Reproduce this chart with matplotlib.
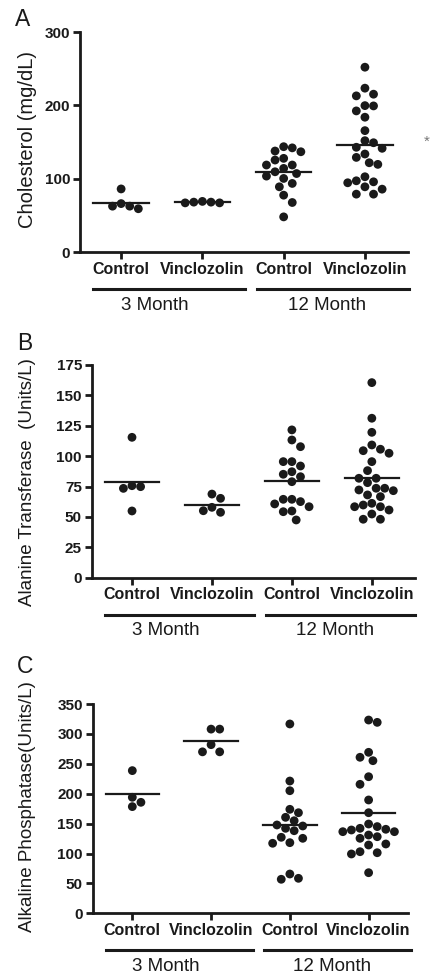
import matplotlib.pyplot as plt
import numpy as np
from matplotlib.transforms import blended_transform_factory, ScaledTranslation

plt.rcParams['font.family'] = ['Liberation Sans', 'DejaVu Sans']

# categorias
groups = ['Control', 'Vinclozolin', 'Control', 'Vinclozolin']
ages = ['3 Month', '12 Month']

# A - colesterol (mg/dL)
chol_3m_ctrl = [86, 66, 62.5, 62.5, 59]
chol_3m_vinc = [69, 68, 68, 67, 67]
chol_12m_ctrl = [142, 143.6, 136.7, 137.7, 127.7, 125.4, 118.6, 118.6, 114,
                 109.4, 107, 103.5, 100.3, 93.5, 88.9, 77.5, 67.5, 47.9]
chol_12m_vinc = [252, 223.4, 212.9, 215.2, 199.6, 192.4, 199.2, 183.8, 165.5,
                 151.8, 149, 142.8, 141.4, 133.6, 129, 121.7, 119.5, 102.6,
                 97.1, 95.7, 94.4, 88.9, 85.7, 78.9, 78.9]

# B - alanina transferasa (Units/L)
alt_3m_ctrl = [115.5, 74.9, 73.5, 75.7, 54.9]
alt_3m_vinc = [68.8, 65.3, 57.9, 53.8, 55.1]
alt_12m_ctrl = [121.6, 113.3, 107.8, 95.5, 95.5, 91.9, 85.1, 87.2, 83.1, 79,
                64.5, 64.5, 60.7, 62.6, 58.4, 54.9, 54.3, 47.5]
alt_12m_vinc = [160.5, 131.2, 119.6, 109.2, 104.5, 105.7, 102.4, 95.5, 88.1,
                81.8, 81.8, 78.2, 73.6, 73.6, 72.2, 71.6, 68.1, 66.7, 61.2,
                59.8, 58.4, 58.4, 52.4, 48.1, 48.1, 55.7]

# C - fosfatasa alcalina (Units/L)
alp_3m_ctrl = [238.6, 194, 178.4, 185.6]
alp_3m_vinc = [308, 308, 282, 270, 270]
alp_12m_ctrl = [316.6, 221.2, 205, 173.9, 168.2, 160.5, 147.7, 154.8, 146,
                142.1, 138.1, 127.1, 125.4, 118.1, 117.1, 65.7, 56.9, 58.5]
alp_12m_vinc = [323.2, 319.3, 269.2, 255.2, 260.9, 228.4, 215.7, 189.5, 168.2,
                149.3, 140.5, 142.1, 145, 139.3, 136.5, 136.5, 130.9, 125.4,
                128.1, 115.9, 114.2, 103, 101.3, 99.2, 67.9]

chol_ticks = [0, 100, 200, 300]
alt_ticks = [0, 25, 50, 75, 100, 125, 150, 175]
alp_ticks = [0, 50, 100, 150, 200, 250, 300, 350]

panels = [
    dict(letter='A', ylabel='Cholesterol (mg/dL)', ysize=14.5,
         data=[chol_3m_ctrl, chol_3m_vinc, chol_12m_ctrl, chol_12m_vinc],
         ticks=chol_ticks, rect=[80, 32, 408, 252], xlim=(-0.506, 3.53),
         letter_pos=(23, 20), ylabel_pos=(28, 140)),
    dict(letter='B', ylabel='Alanine Transferase  (Units/L)', ysize=13.5,
         data=[alt_3m_ctrl, alt_3m_vinc, alt_12m_ctrl, alt_12m_vinc],
         ticks=alt_ticks, rect=[91.7, 365, 415, 577.7], xlim=(-0.504, 3.54),
         letter_pos=(25, 343), ylabel_pos=(28, 482)),
    dict(letter='C', ylabel='Alkaline Phosphatase(Units/L)', ysize=13.5,
         data=[alp_3m_ctrl, alp_3m_vinc, alp_12m_ctrl, alp_12m_vinc],
         ticks=alp_ticks, rect=[92.7, 704, 408, 913.3], xlim=(-0.503, 3.5),
         letter_pos=(25, 666), ylabel_pos=(28, 807)),
]

W, H = 430, 980
ink = '#1a1a1a'


def swarm(ax, xc, vals, step=4.3, rx=8.5, ry=9.0):
    # reparto tipo "beeswarm" en pixeles, equilibrando ambos lados
    placed = []
    for v in sorted(vals, reverse=True):
        px, py = ax.transData.transform((xc, v))
        left = sum(1 for a, _ in placed if a < px - 0.1)
        right = sum(1 for a, _ in placed if a > px + 0.1)
        first = 1 if right <= left else -1
        cands = [0]
        for k in range(1, 12):
            cands += [first * k, -first * k]
        for k in cands:
            cx = px + k * step
            if all(((cx - a) / rx) ** 2 + ((py - b) / ry) ** 2 >= 1 for a, b in placed):
                break
        placed.append((cx, py))
    return ax.transData.inverted().transform(placed)


fig = plt.figure(figsize=(W / 100, H / 100), dpi=100)

for p in panels:
    x0, y0, x1, y1 = p['rect']
    ax = fig.add_axes([x0 / W, 1 - y1 / H, (x1 - x0) / W, (y1 - y0) / H])
    ax.set_xlim(*p['xlim'])
    ax.set_ylim(0, p['ticks'][-1])

    for i, vals in enumerate(p['data']):
        pts = swarm(ax, i, vals)
        ax.scatter(pts[:, 0], pts[:, 1], s=40, color=ink, edgecolors='none',
                   zorder=3, clip_on=False)
        m = np.mean(vals)
        ax.plot([i - 0.34, i + 0.34], [m, m], color=ink, lw=1.6, zorder=4)

    ax.set_yticks(p['ticks'])
    ax.set_yticklabels([str(t) for t in p['ticks']], fontweight='bold', fontsize=11)
    ax.set_xticks(range(len(groups)))
    ax.set_xticklabels(groups, fontweight='bold', fontsize=11.5)
    ax.tick_params(axis='both', direction='out', length=5, width=2, color=ink,
                   pad=2, labelcolor=ink)

    ax.spines[['top', 'right']].set_visible(False)
    for s in ['left', 'bottom']:
        ax.spines[s].set_linewidth(2)
        ax.spines[s].set_color(ink)

    # lineas de grupo y etiquetas de edad
    base = blended_transform_factory(ax.transData, ax.transAxes)
    tr_line = base + ScaledTranslation(0, -37 / 100, fig.dpi_scale_trans)
    tr_text = base + ScaledTranslation(0, -53 / 100, fig.dpi_scale_trans)
    for (a, b), xt, lab in zip([(-0.34, 1.53), (1.67, 3.54)], [0.42, 2.54], ages):
        ax.plot([a, b], [0, 0], color=ink, lw=2.2, transform=tr_line, clip_on=False)
        ax.text(xt, 0, lab, transform=tr_text, ha='center', va='center',
                fontsize=13.5, color=ink)

    fig.text(p['letter_pos'][0] / W, 1 - p['letter_pos'][1] / H, p['letter'],
             ha='center', va='center', fontsize=16.5, color=ink)
    fig.text(p['ylabel_pos'][0] / W, 1 - p['ylabel_pos'][1] / H, p['ylabel'],
             ha='center', va='center', rotation=90, fontsize=p['ysize'], color=ink)

# asterisco recortado en el borde
fig.text(424 / W, 1 - 142 / H, '*', ha='left', va='center', fontsize=11, color='#777777')

fig.savefig('out.png', dpi=100)
